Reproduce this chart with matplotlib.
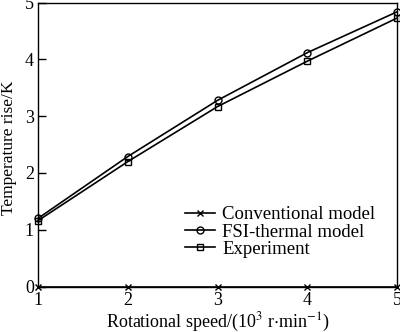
import matplotlib
matplotlib.use("Agg")
import matplotlib.pyplot as plt

plt.rcParams['font.family'] = ['Liberation Serif', 'DejaVu Serif']
plt.rcParams['mathtext.fontset'] = 'stix'

speed = [1, 2, 3, 4, 5]
conventional = [0, 0, 0, 0, 0]
fsi_thermal = [1.2, 2.29, 3.28, 4.12, 4.84]
experiment = [1.16, 2.2, 3.17, 3.97, 4.73]

fig = plt.figure(figsize=(4.0, 3.32), dpi=100)
ax = fig.add_axes([0.095, 0.137, 0.898, 0.855])

ax.plot(speed, conventional, color='black', lw=1.2, marker='x', ms=5,
        mew=1.0, label='Conventional model', clip_on=False, zorder=5)
ax.plot(speed, fsi_thermal, color='black', lw=1.2, marker='o', ms=5,
        mfc='none', mew=1.0, label='FSI-thermal model', clip_on=False)
ax.plot(speed, experiment, color='black', lw=1.2, marker='s', ms=5,
        mfc='none', mew=1.0, label='Experiment', clip_on=False)

ax.set_xlim(1, 5)
ax.set_ylim(0, 5)
ax.set_xticks(speed)
ax.set_yticks([0, 1, 2, 3, 4, 5])
ax.tick_params(axis='y', direction='in', length=6, width=1, labelsize=13, pad=3)
ax.tick_params(axis='x', direction='in', length=0, labelsize=13, pad=4)
for s in ax.spines.values():
    s.set_linewidth(1.0)

ax.set_xlabel(r'Rotational speed/(10$^3$ r$\cdot$min$^{-1}$)', fontsize=13, labelpad=1)
ax.set_ylabel('Temperature rise/K', fontsize=12.5)
ax.yaxis.set_label_coords(-0.058, 0.49)

ax.legend(loc='lower right', bbox_to_anchor=(0.96, 0.075), frameon=False,
          fontsize=13.5, handlelength=1.6, handletextpad=0.4, labelspacing=0.0,
          borderaxespad=0)

fig.savefig('out.png', dpi=100)
